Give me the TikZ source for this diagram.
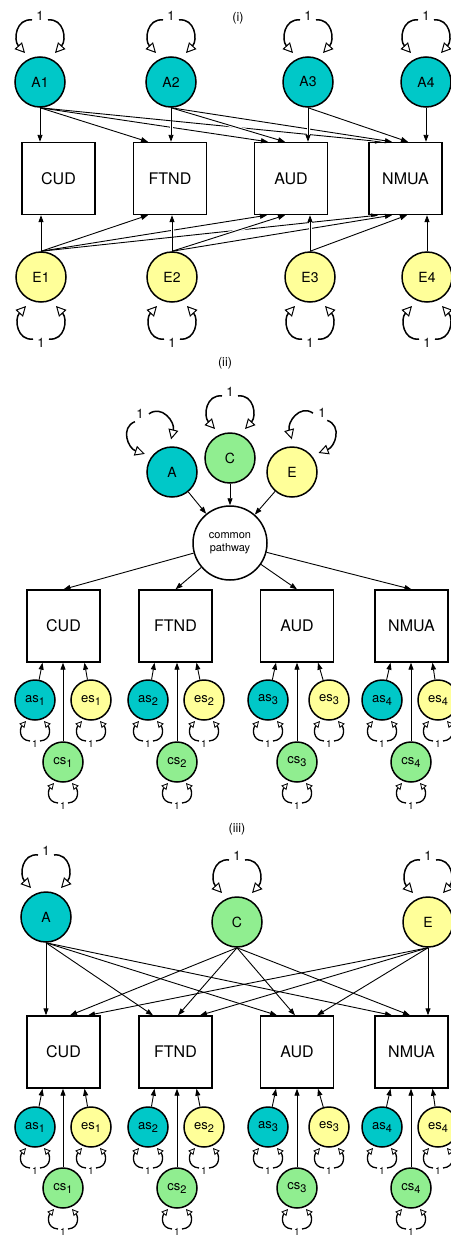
\documentclass[tikz,border=0pt]{standalone}
\usepackage{fontspec}
\setmainfont{TeX Gyre Heros}
\usetikzlibrary{arrows.meta}
\definecolor{acol}{RGB}{0,200,200}
\definecolor{ccol}{RGB}{144,238,144}
\definecolor{ecol}{RGB}{255,255,153}
\pgfdeclarelayer{background}
\pgfsetlayers{background,main}
\newcommand{\lowsub}[1]{\raisebox{-3pt}{\fontsize{11}{11}\selectfont #1}}
\tikzset{
  lat/.style={circle,draw,line width=1.5pt,minimum size=50pt,inner sep=0pt,font=\fontsize{14}{14}\selectfont},
  slat/.style={circle,draw,line width=1.5pt,minimum size=40pt,inner sep=0pt,font=\fontsize{13}{13}\selectfont},
  obs/.style={rectangle,draw,line width=1.4pt,minimum width=73pt,minimum height=72pt,inner sep=0pt,font=\fontsize{16}{16}\selectfont},
  cpath/.style={circle,draw,fill=white,line width=1.5pt,minimum size=74pt,inner sep=0pt,align=center,font=\fontsize{11}{13}\selectfont},
  ttl/.style={font=\fontsize{12.5}{12.5}\selectfont},
  conn/.style={line width=0.9pt,-{Triangle[length=7pt,width=5pt]}},
  halo/.style={preaction={draw=white,line width=3pt,-,shorten <=15pt,shorten >=4pt}},
  bll/.style={line width=1.5pt,-{Triangle[open,length=10pt,width=10pt,line width=1pt]}},
  sll/.style={line width=1.3pt,-{Triangle[open,length=6.5pt,width=6.5pt,line width=0.8pt]}},
  blab/.style={font=\fontsize{13}{13}\selectfont,inner sep=0pt},
  slab/.style={font=\fontsize{10}{10}\selectfont,inner sep=0pt},
  bigloop/.pic={
    \draw[bll] (-8,-62) .. controls (-24,-64) and (-27,-42) .. (-15,-29);
    \draw[bll] (8,-62) .. controls (24,-64) and (27,-42) .. (15,-29);
    \node[blab] at (0,-66) {1};
  },
  smallloop/.pic={
    \draw[sll] (-5,41) .. controls (-17,40) and (-15,28) .. (-9,21);
    \draw[sll] (5,41) .. controls (17,40) and (15,28) .. (9,21);
    \node[slab] at (0,44) {1};
  },
}
\begin{document}
\begin{tikzpicture}[x=1pt,y=-1pt]
\useasboundingbox (0,0) rectangle (450,1239);

% ---------------- panel (i)
\node[ttl] (t1) at (238,18) {(i)};
\node[lat,fill=acol] (A1) at (40,82) {A1};
\node[lat,fill=acol] (A2) at (171,82) {A2};
\node[lat,fill=acol] (A3) at (308,82) {A3};
\node[lat,fill=acol] (A4) at (426,82) {A4};
\node[obs] (b1) at (58.5,178.5) {CUD};
\node[obs] (b2) at (170,178.5) {FTND};
\node[obs] (b3) at (291,178.5) {AUD};
\node[obs] (b4) at (405.5,178.5) {NMUA};
\node[lat,fill=ecol] (E1) at (41,277) {E1};
\node[lat,fill=ecol] (E2) at (172,277) {E2};
\node[lat,fill=ecol] (E3) at (310,277) {E3};
\node[lat,fill=ecol] (E4) at (427,277) {E4};
\pic at (A1) {bigloop};
\pic at (A2) {bigloop};
\pic at (A3) {bigloop};
\pic at (A4) {bigloop};
\pic[rotate=180] at (E1) {bigloop};
\pic[rotate=180] at (E2) {bigloop};
\pic[rotate=180] at (E3) {bigloop};
\pic[rotate=180] at (E4) {bigloop};

% ---------------- panel (ii)
\node[ttl] (t2) at (225,363) {(ii)};
\node[lat,fill=acol] (pA) at (172,472) {A};
\node[lat,fill=ccol] (pC) at (230,458) {C};
\node[lat,fill=ecol] (pE) at (292,472) {E};
\node[cpath] (cp) at (230,543) {common\\pathway};
\pic[rotate=29] at (pA) {bigloop};
\pic at (pC) {bigloop};
\pic[rotate=-27] at (pE) {bigloop};
\node[obs] (c1) at (63.5,626) {CUD};
\node[obs] (c2) at (175.5,626) {FTND};
\node[obs] (c3) at (297,626) {AUD};
\node[obs] (c4) at (411.5,626) {NMUA};
\node[slat,fill=acol] (sa1) at (35,700) {as\lowsub{1}};
\node[slat,fill=ecol] (se1) at (91,700) {es\lowsub{1}};
\node[slat,fill=ccol] (sc1) at (63,762) {cs\lowsub{1}};
\node[slat,fill=acol] (sa2) at (148,700) {as\lowsub{2}};
\node[slat,fill=ecol] (se2) at (204,700) {es\lowsub{2}};
\node[slat,fill=ccol] (sc2) at (177,762) {cs\lowsub{2}};
\node[slat,fill=acol] (sa3) at (268,700) {as\lowsub{3}};
\node[slat,fill=ecol] (se3) at (329,700) {es\lowsub{3}};
\node[slat,fill=ccol] (sc3) at (297,762) {cs\lowsub{3}};
\node[slat,fill=acol] (sa4) at (382,700) {as\lowsub{4}};
\node[slat,fill=ecol] (se4) at (438,700) {es\lowsub{4}};
\node[slat,fill=ccol] (sc4) at (411,762) {cs\lowsub{4}};
\foreach \n in {sa1,se1,sc1,sa2,se2,sc2,sa3,se3,sc3,sa4,se4,sc4} {\pic at (\n) {smallloop};}

% ---------------- panel (iii)
\node[ttl] (t3) at (237,829) {(iii)};
\node[lat,fill=acol] (qA) at (46,917) {A};
\node[lat,fill=ccol] (qC) at (237,922) {C};
\node[lat,fill=ecol] (qE) at (428,922) {E};
\pic at (qA) {bigloop};
\pic at (qC) {bigloop};
\pic at (qE) {bigloop};
\node[obs] (d1) at (63.5,1052) {CUD};
\node[obs] (d2) at (175.5,1052) {FTND};
\node[obs] (d3) at (297,1052) {AUD};
\node[obs] (d4) at (411.5,1052) {NMUA};
\node[slat,fill=acol] (ta1) at (35,1127) {as\lowsub{1}};
\node[slat,fill=ecol] (te1) at (91,1127) {es\lowsub{1}};
\node[slat,fill=ccol] (tc1) at (63,1188) {cs\lowsub{1}};
\node[slat,fill=acol] (ta2) at (148,1127) {as\lowsub{2}};
\node[slat,fill=ecol] (te2) at (204,1127) {es\lowsub{2}};
\node[slat,fill=ccol] (tc2) at (177,1188) {cs\lowsub{2}};
\node[slat,fill=acol] (ta3) at (268,1127) {as\lowsub{3}};
\node[slat,fill=ecol] (te3) at (329,1127) {es\lowsub{3}};
\node[slat,fill=ccol] (tc3) at (297,1188) {cs\lowsub{3}};
\node[slat,fill=acol] (ta4) at (382,1127) {as\lowsub{4}};
\node[slat,fill=ecol] (te4) at (438,1127) {es\lowsub{4}};
\node[slat,fill=ccol] (tc4) at (411,1188) {cs\lowsub{4}};
\foreach \n in {ta1,te1,tc1,ta2,te2,tc2,ta3,te3,tc3,ta4,te4,tc4} {\pic at (\n) {smallloop};}

\begin{pgfonlayer}{background}
% (i) A paths
\draw[conn] (A1.south) -- (A1 |- b1.north);
\draw[conn] (A1.south) -- ([xshift=-22pt]b2.north);
\draw[conn] (A1.south) -- ([xshift=-23pt]b3.north);
\draw[conn] (A1.south) -- ([xshift=-23.5pt]b4.north);
\draw[conn,halo] (A2.south) -- (A2 |- b2.north);
\draw[conn,halo] (A2.south) -- ([xshift=-6pt]b3.north);
\draw[conn,halo] (A2.south) -- ([xshift=-13.5pt]b4.north);
\draw[conn,halo] (A3.south) -- (A3 |- b3.north);
\draw[conn,halo] (A3.south) -- ([xshift=2.5pt]b4.north);
\draw[conn,halo] (A4.south) -- (A4 |- b4.north);
% (i) E paths
\draw[conn] (E1.north) -- (E1 |- b1.south);
\draw[conn] (E1.north) -- ([xshift=-22pt]b2.south);
\draw[conn] (E1.north) -- ([xshift=-24pt]b3.south);
\draw[conn] (E1.north) -- ([xshift=-27.5pt]b4.south);
\draw[conn,halo] (E2.north) -- (E2 |- b2.south);
\draw[conn,halo] (E2.north) -- ([xshift=-6pt]b3.south);
\draw[conn,halo] (E2.north) -- ([xshift=-13.5pt]b4.south);
\draw[conn,halo] (E3.north) -- (E3 |- b3.south);
\draw[conn,halo] (E3.north) -- ([xshift=1.5pt]b4.south);
\draw[conn,halo] (E4.north) -- (E4 |- b4.south);
% (ii)
\draw[conn] (pA) -- (cp);
\draw[conn] (pC) -- (cp);
\draw[conn] (pE) -- (cp);
\foreach \b in {c1,c2,c3,c4} {\draw[conn] (cp) -- (\b.north);}
\foreach \i in {1,2,3,4} {
  \draw[conn] (sa\i) -- ([xshift=-21pt]c\i.south);
  \draw[conn] (se\i) -- ([xshift=21pt]c\i.south);
  \draw[conn] (sc\i) -- (sc\i |- c\i.south);
}
% (iii)
\draw[conn] (qA.south) -- (qA |- d1.north);
\draw[conn] (qA.south) -- ([xshift=-22.5pt]d2.north);
\draw[conn] (qA.south) -- ([xshift=-20pt]d3.north);
\draw[conn] (qA.south) -- ([xshift=-19.5pt]d4.north);
\draw[conn] (qC.south) -- ([xshift=6.5pt]d1.north);
\draw[conn] (qC.south) -- ([xshift=2.5pt]d2.north);
\draw[conn] (qC.south) -- ([xshift=-2pt]d3.north);
\draw[conn] (qC.south) -- ([xshift=-1.5pt]d4.north);
\draw[conn] (qE.south) -- ([xshift=24.5pt]d1.north);
\draw[conn] (qE.south) -- ([xshift=24.5pt]d2.north);
\draw[conn] (qE.south) -- ([xshift=20pt]d3.north);
\draw[conn] (qE.south) -- (qE |- d4.north);
\foreach \i in {1,2,3,4} {
  \draw[conn] (ta\i) -- ([xshift=-21pt]d\i.south);
  \draw[conn] (te\i) -- ([xshift=21pt]d\i.south);
  \draw[conn] (tc\i) -- (tc\i |- d\i.south);
}
\end{pgfonlayer}
\end{tikzpicture}
\end{document}
